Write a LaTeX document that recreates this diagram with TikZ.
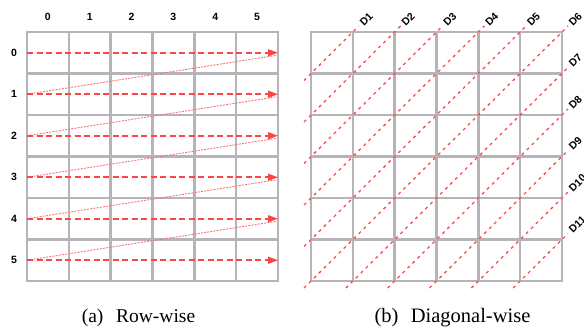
\documentclass[tikz,border=0pt]{standalone}
\usepackage{fontspec}
\setmainfont{Liberation Serif}
\setsansfont{Liberation Sans}
\usetikzlibrary{arrows.meta}
\definecolor{gridgray}{RGB}{182,180,185}
\definecolor{arrred}{RGB}{250,70,70}
\definecolor{thinred}{RGB}{245,115,115}
\definecolor{diagred}{RGB}{252,75,75}
\begin{document}
\begin{tikzpicture}[x=1pt,y=-1pt,
  gridline/.style={draw=gridgray,line width=2.4pt},
  rowarrow/.style={draw=arrred,line width=1.6pt,dash pattern=on 6pt off 3.5pt,-{Triangle[length=10pt,width=7pt]}},
  linkline/.style={draw=thinred,line width=0.9pt,dash pattern=on 2pt off 1.2pt},
  diagline/.style={draw=diagred,line width=1.3pt,dash pattern=on 3pt off 4pt},
  idx/.style={font=\sffamily\bfseries\fontsize{10.5}{12}\selectfont,inner sep=0pt},
  dlab/.style={idx,rotate=45,anchor=west},
  captext/.style={font=\fontsize{19.5}{22}\selectfont,inner sep=0pt,anchor=base}]
\useasboundingbox (0,0) rectangle (584,327);
% grids
\foreach \gx in {27,311}{
  \foreach \i in {1,...,5}{
    \draw[gridline] (\gx+\i*41.833,32) -- (\gx+\i*41.833,281);
    \draw[gridline] (\gx,32+\i*41.5) -- (\gx+251,32+\i*41.5);
  }
  \draw[gridline] (\gx,32) rectangle (\gx+251,281);
}
% row-wise
\foreach \i in {0,...,5}{
  \pgfmathsetmacro{\yy}{32+(\i+0.5)*41.5}
  \coordinate (rs\i) at (27,\yy);
  \coordinate (re\i) at (278,\yy);
  \coordinate (le\i) at (277,\yy+2.5);
  \node[idx] (r\i) at (14,\yy) {\i};
  \node[idx] (c\i) at (27+\i*41.833+20.9,17) {\i};
}
\foreach \i [evaluate=\i as \j using int(\i+1)] in {0,...,4}{
  \draw[linkline] (rs\j) -- (le\i);
}
\foreach \i in {0,...,5}{
  \draw[rowarrow] (rs\i) -- (re\i);
}
\node[captext] (capa) at (138.5,322) {(a)\hspace{0.65em}Row-wise};
% diagonal-wise
\foreach \k in {1,...,11}{
  \pgfmathsetmacro{\ux}{311+min(\k,6)*41.833}
  \pgfmathsetmacro{\uy}{32+max(\k-6,0)*41.5}
  \pgfmathsetmacro{\lx}{311+max(\k-6,0)*41.833}
  \pgfmathsetmacro{\ly}{32+min(\k,6)*41.5}
  \coordinate (u\k) at (\ux+6,\uy-6);
  \coordinate (l\k) at (\lx-7,\ly+7);
  \draw[diagline] (l\k) -- (u\k);
  \node[dlab] (d\k) at (\ux+8.5,\uy-8) {D\k};
}
\node[captext,font=\fontsize{20.5}{22}\selectfont] (capb) at (452.5,322) {(b)\hspace{0.6em}Diagonal-wise};
\end{tikzpicture}
\end{document}
